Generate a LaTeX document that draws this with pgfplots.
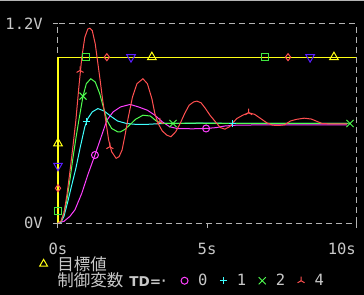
\documentclass[border=0pt]{standalone}
\usepackage{fontspec}
\usepackage{pgfplots}
\pgfplotsset{compat=1.18}
\usetikzlibrary{plotmarks}
\setmainfont{DejaVu Sans Mono}
\newfontfamily\monofont{DejaVu Sans Mono}
\newfontfamily\jpfont{Noto Sans CJK JP}
\newfontfamily\tdfont{DejaVu Sans}
\definecolor{bordergray}{RGB}{180,180,180}
\definecolor{textgray}{RGB}{200,200,200}
\definecolor{tyellow}{RGB}{255,255,20}
\definecolor{cred}{RGB}{255,80,80}
\definecolor{cgreen}{RGB}{80,255,80}
\definecolor{ccyan}{RGB}{64,255,255}
\definecolor{cmag}{RGB}{255,64,255}
\definecolor{cblue}{RGB}{90,30,255}
\definecolor{sqgreen}{RGB}{64,230,64}
\newcommand{\tickfont}{\monofont\fontsize{15.5bp}{18bp}\selectfont}
\newcommand{\jpf}{\jpfont\fontsize{16.5bp}{18bp}\selectfont}
\newcommand{\tdf}{\tdfont\bfseries\fontsize{13.5bp}{15bp}\selectfont}
\pgfplotsset{legmark/.style={legend image code/.code={\draw[##1] plot coordinates {(0bp,0bp)};}}}
\begin{document}
\begin{tikzpicture}
\useasboundingbox (-58bp,-72bp) rectangle (306bp,223bp);
\fill[black] (-58bp,-72bp) rectangle (306bp,223bp);
\draw[bordergray,line width=1bp] (-58bp,222.5bp) -- (306bp,222.5bp);
\begin{axis}[
  at={(0,0)}, anchor=south west,
  scale only axis, width=298bp, height=199bp,
  xmin=0, xmax=10, ymin=0, ymax=1.2,
  clip=false,
  axis line style={draw=bordergray, line width=1bp, dash pattern=on 6bp off 4bp},
  xtick={0,5}, xticklabels={0s,5s},
  extra x ticks={10}, extra x tick labels={10s},
  extra x tick style={xticklabel style={anchor=north east, xshift=0bp}},
  ytick={0,1.2}, yticklabels={0V,1.2V},
  tick pos=left, tick align=outside, major tick length=5bp,
  tick style={draw=bordergray, solid, line width=1bp},
  /pgf/number format/assume math mode=true,
  xticklabel style={font=\tickfont, text=textgray, inner sep=0pt, yshift=-15bp},
  yticklabel style={font=\tickfont, text=textgray, inner sep=0pt, anchor=east, xshift=-10bp},
  legend columns=5,
  legend cell align=left,
  legend style={at={(rel axis cs:0,0)}, anchor=north west, xshift=-18.5bp, yshift=-33bp,
    draw=none, fill=none, text=textgray, inner sep=0pt, nodes={inner sep=0pt},
    row sep=1.5bp,
    /tikz/every odd column/.append style={column sep=10bp},
    /tikz/every even column/.append style={column sep=12.5bp}},
]
% legend images
\addlegendimage{legmark, tyellow, mark=triangle, mark size=4.5bp, line width=1bp}
\addlegendentry{\jpf 目標値}
\addlegendimage{empty legend}\addlegendentry{}
\addlegendimage{empty legend}\addlegendentry{}
\addlegendimage{empty legend}\addlegendentry{}
\addlegendimage{empty legend}\addlegendentry{}
\addlegendimage{empty legend}
\addlegendentry{\jpf 制御変数\hspace{6bp}{\tdf TD=}{\tickfont\hspace{-2bp}·}\hspace{-10.5bp}}
\addlegendimage{legmark, cmag, mark=o, mark size=3.5bp, line width=1bp}
\addlegendentry{\tickfont 0}
\addlegendimage{legmark, ccyan, mark=+, mark size=3.5bp, line width=1bp}
\addlegendentry{\tickfont 1}
\addlegendimage{legmark, cgreen, mark=x, mark size=5bp, line width=1bp}
\addlegendentry{\tickfont 2}
\addlegendimage{legmark, cred, mark=Mercedes star, mark size=4bp, line width=1bp}
\addlegendentry{\tickfont 4}

% target
\addplot[forget plot, tyellow, line width=1.1bp] coordinates {(0,0) (0,1) (10,1)};

% TD=0
\addplot[forget plot, cmag, line width=1bp] coordinates {
(0,0) (0.2,0.01) (0.4,0.04) (0.57,0.08) (0.8,0.18) (1.0,0.29) (1.24,0.41) (1.45,0.52)
(1.64,0.62) (1.85,0.67) (2.1,0.70) (2.42,0.715) (2.7,0.70) (3.0,0.68) (3.25,0.65)
(3.5,0.61) (3.75,0.58) (4.0,0.57) (4.5,0.568) (4.97,0.57) (5.3,0.575) (5.6,0.585)
(6.0,0.59) (7.0,0.592) (8.0,0.592) (9.7,0.592)};

% TD=1
\addplot[forget plot, ccyan, line width=1bp] coordinates {
(0,0) (0.1,0.005) (0.2,0.04) (0.33,0.13) (0.45,0.22) (0.6,0.33) (0.75,0.46) (0.9,0.58)
(1.0,0.63) (1.15,0.67) (1.34,0.69) (1.55,0.675) (1.8,0.64) (2.0,0.615) (2.3,0.6)
(2.6,0.595) (3.0,0.595) (3.5,0.6) (5.0,0.602) (7.0,0.6) (9.7,0.6)};

% TD=2
\addplot[forget plot, cgreen, line width=1bp] coordinates {
(0,0) (0.1,0.01) (0.2,0.06) (0.3,0.14) (0.4,0.26) (0.5,0.39) (0.6,0.51) (0.7,0.62)
(0.84,0.765) (0.95,0.84) (1.1,0.87) (1.25,0.85) (1.4,0.78) (1.52,0.70) (1.64,0.62)
(1.8,0.57) (2.0,0.55) (2.1,0.55) (2.25,0.565) (2.4,0.59) (2.6,0.625) (2.85,0.65)
(3.1,0.645) (3.3,0.615) (3.5,0.6) (4.5,0.602) (6.0,0.6) (9.75,0.6)};

% TD=4
\addplot[forget plot, cred, line width=1bp] coordinates {
(0,0) (0.1,0.01) (0.2,0.06) (0.3,0.17) (0.4,0.31) (0.5,0.46) (0.6,0.62) (0.7,0.82)
(0.8,1.0) (0.9,1.12) (1.0,1.17) (1.07,1.175) (1.15,1.16) (1.25,1.08) (1.31,1.0)
(1.4,0.88) (1.5,0.74) (1.6,0.62) (1.7,0.5) (1.8,0.43) (1.95,0.39) (2.05,0.40)
(2.15,0.44) (2.25,0.53) (2.35,0.63) (2.5,0.76) (2.65,0.84) (2.85,0.87) (3.0,0.84)
(3.15,0.75) (3.25,0.66) (3.36,0.6) (3.5,0.555) (3.65,0.53) (3.79,0.52) (3.95,0.55)
(4.1,0.6) (4.25,0.66) (4.4,0.71) (4.55,0.73) (4.66,0.735) (4.8,0.725) (4.95,0.69)
(5.1,0.65) (5.33,0.6) (5.45,0.575) (5.6,0.566) (5.75,0.58) (5.9,0.61) (6.0,0.63)
(6.2,0.65) (6.4,0.665) (6.6,0.655) (6.8,0.63) (7.0,0.605) (7.2,0.59) (7.4,0.588)
(7.6,0.592) (7.8,0.615) (8.0,0.625) (8.26,0.632) (8.5,0.627) (8.7,0.612) (8.86,0.6)
(9.2,0.597) (9.7,0.597)};

% markers on target line
\addplot[forget plot, only marks, sqgreen, mark=square, mark size=3.5bp, line width=1bp]
  coordinates {(0,0.075) (0.94,1) (6.95,1)};
\addplot[forget plot, only marks, cred, mark=diamond, mark size=3.5bp, line width=1bp]
  coordinates {(0,0.21) (1.64,1) (7.72,1)};
\addplot[forget plot, only marks, cblue, mark=triangle, mark options={rotate=180}, mark size=5bp, line width=1bp]
  coordinates {(0,0.345) (2.45,1) (8.46,1)};
\addplot[forget plot, only marks, tyellow, mark=triangle, mark size=5bp, line width=1bp]
  coordinates {(0,0.48) (3.15,1) (9.26,1)};

% markers on responses
\addplot[forget plot, only marks, cmag, mark=o, mark size=3.5bp, line width=1bp]
  coordinates {(1.24,0.41) (4.97,0.57)};
\addplot[forget plot, only marks, ccyan, mark=+, mark size=3.5bp, line width=1bp]
  coordinates {(0.94,0.61) (5.87,0.6)};
\addplot[forget plot, only marks, cgreen, mark=x, mark size=5bp, line width=1bp]
  coordinates {(0.84,0.765) (3.86,0.6) (9.8,0.6)};
\addplot[forget plot, only marks, cred, mark=Mercedes star, mark size=4bp, line width=1bp]
  coordinates {(0.74,0.92) (1.74,0.46) (3.42,0.61) (6.4,0.665)};
\end{axis}
\end{tikzpicture}
\end{document}
